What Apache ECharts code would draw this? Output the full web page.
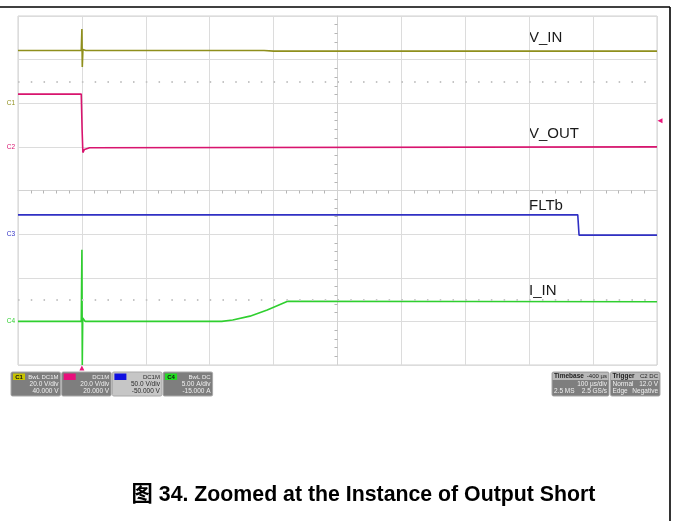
<!DOCTYPE html>
<html>
<head>
<meta charset="utf-8">
<script src="https://cdn.jsdelivr.net/npm/echarts@6/dist/echarts.min.js"></script>
<style>
html,body{margin:0;padding:0;background:#fff}
#main{width:673px;height:521px}
</style>
</head>
<body>
<div id="main"></div>
<script>
// traces: time in µs (trigger at 0), values in channel units
var vinTime  = [-100, -1, 0, 0.6, 1.6, 6, 285, 300, 900];
var vinVolt  = [24.2, 24.2, 34, 16.6, 24.6, 24.2, 24.2, 23.9, 23.9];

var voutTime = [-100, -1, 0.3, 1.5, 4, 12, 900];
var voutVolt = [24.2, 24.2, 8, -2.6, -1.2, -0.4, 0];

var fltTime  = [-100, 776, 778, 900];
var fltVolt  = [22.1, 22.1, -1.1, -1.1];

var iinTime  = [-100, -1, 0, 0.6, 1.3, 5, 219, 236, 263, 290, 322, 900];
var iinAmp   = [0, 0, 8.2, -5, 0.4, 0, 0, 0.15, 0.6, 1.3, 2.3, 2.25];

// scope channel settings
var chanNames   = ['C1', 'C2', 'C3', 'C4'];
var chanPerDiv  = [20, 20, 50, 5];
var chanOffset  = [40, 20, -50, -15];
var chanColors  = ['#8f8f1c', '#d8146e', '#3030c4', '#2fcf2f'];
var badgeColors = ['#c8c400', '#e8107c', '#1010e0', '#22dd22'];
var traceNames  = ['V_IN', 'V_OUT', 'FLTb', 'I_IN'];
var traceLabelY = [38, 133.5, 205.5, 290.5];
var chanCoupling = ['BwL DC1M', 'DC1M', 'DC1M', 'BwL DC'];
var chanScaleTxt = ['20.0 V/div', '20.0 V/div', '50.0 V/div', '5.00 A/div'];
var chanOffsetTxt = ['40.000 V', '20.000 V', '-50.000 V', '-15.000 A'];
var triggerLevel = 12.0;   // V on C2
var timeMin = -100, timeMax = 900, timePerDiv = 100;

var dom = document.getElementById('main');
var myChart = echarts.init(dom, null, {renderer: 'canvas'});

function zip(t, v) {
    var out = [];
    for (var i = 0; i < t.length; i++) out.push([t[i], v[i]]);
    return out;
}
var traces = [zip(vinTime, vinVolt), zip(voutTime, voutVolt), zip(fltTime, fltVolt), zip(iinTime, iinAmp)];

var FONT = '"Liberation Sans", Arial, sans-serif';

// channel y axes: screen = (value + offset) / perDiv, 8 divisions
var yAxes = [{
    type: 'value', min: -4, max: 4, interval: 1,
    axisLabel: {show: false},
    axisTick: {show: false},
    axisLine: {show: true, onZero: true, onZeroAxisIndex: 0, lineStyle: {color: '#d2d2d2'}},
    minorTick: {show: true, splitNumber: 5, length: 3, lineStyle: {color: '#b5b5b5'}},
    splitLine: {lineStyle: {color: '#dcdcdc'}}
}];
chanNames.forEach(function (name, i) {
    yAxes.push({
        type: 'value',
        min: -4 * chanPerDiv[i] - chanOffset[i],
        max: 4 * chanPerDiv[i] - chanOffset[i],
        interval: chanPerDiv[i],
        position: 'left',
        axisLine: {show: false, onZero: false},
        axisTick: {show: false},
        splitLine: {show: false},
        axisLabel: {
            margin: 3, fontSize: 6.5, color: chanColors[i], fontFamily: FONT,
            formatter: function (v) { return Math.abs(v) < 1e-9 ? name : ''; }
        }
    });
});

var series = traces.map(function (d, i) {
    return {
        type: 'line', name: traceNames[i],
        xAxisIndex: 1, yAxisIndex: i + 1,
        data: d, symbol: 'none', silent: true,
        lineStyle: {color: chanColors[i], width: 1.6}
    };
});
// trigger markers on C2
series[1].markPoint = {
    silent: true,
    label: {show: false},
    data: [
        {coord: [0, -4 * chanPerDiv[1] - chanOffset[1]], symbol: 'triangle', symbolSize: 5, symbolOffset: [0, 3], itemStyle: {color: '#e8157a'}},
        {coord: [timeMax, triggerLevel], symbol: 'triangle', symbolRotate: 90, symbolSize: 5, symbolOffset: [3, 0], itemStyle: {color: '#e8157a'}}
    ]
};
// dotted rows at +/-2.5 div
series.push({
    type: 'line', xAxisIndex: 0, yAxisIndex: 0, data: [], silent: true,
    markLine: {
        silent: true, symbol: 'none', label: {show: false},
        lineStyle: {color: '#c4c4c4', type: [1.5, 11.28], width: 2},
        data: [{yAxis: 2.5}, {yAxis: -2.5}]
    }
});

var graphics = [];
// outer frame
graphics.push({type: 'line', shape: {x1: 0, y1: 7, x2: 670, y2: 7}, style: {stroke: '#000', lineWidth: 1.6}});
graphics.push({type: 'line', shape: {x1: 670, y1: 7, x2: 670, y2: 521}, style: {stroke: '#000', lineWidth: 1.6}});
// trace names
traceNames.forEach(function (n, i) {
    graphics.push({type: 'text', x: 529, y: traceLabelY[i],
        style: {text: n, font: '15px ' + FONT, fill: '#1a1a1a', verticalAlign: 'middle'}});
});
// channel descriptor boxes
chanNames.forEach(function (n, i) {
    var x0 = 11 + i * 50.7, light = (i === 2);
    var txt = light ? '#2a2a2a' : '#f0f0f0';
    graphics.push({type: 'rect', shape: {x: x0, y: 372, width: 49.5, height: 24, r: 1.5},
        style: {fill: light ? '#c6c6c6' : '#7e7e7e', stroke: '#a8a8a8', lineWidth: 1}});
    graphics.push({type: 'rect', shape: {x: x0 + 2, y: 373.5, width: 12, height: 6.5},
        style: {fill: badgeColors[i]}});
    graphics.push({type: 'text', x: x0 + 8, y: 377,
        style: {text: n, font: 'bold 6px ' + FONT, fill: i === 0 || i === 3 ? '#111' : badgeColors[i], align: 'center', verticalAlign: 'middle'}});
    graphics.push({type: 'text', x: x0 + 47.5, y: 377,
        style: {text: chanCoupling[i], font: '6px ' + FONT, fill: txt, align: 'right', verticalAlign: 'middle'}});
    graphics.push({type: 'text', x: x0 + 47.5, y: 384.5,
        style: {text: chanScaleTxt[i], font: '6.5px ' + FONT, fill: txt, align: 'right', verticalAlign: 'middle'}});
    graphics.push({type: 'text', x: x0 + 47.5, y: 391.5,
        style: {text: chanOffsetTxt[i], font: '6.5px ' + FONT, fill: txt, align: 'right', verticalAlign: 'middle'}});
});
// timebase / trigger boxes
var infoBoxes = [
    {x: 552, w: 57, head: ['Timebase', '-400 µs'], rows: [['', '100 µs/div'], ['2.5 MS', '2.5 GS/s']]},
    {x: 610.5, w: 49.5, head: ['Trigger', 'C2 DC'], rows: [['Normal', '12.0 V'], ['Edge', 'Negative']]}
];
infoBoxes.forEach(function (b) {
    graphics.push({type: 'rect', shape: {x: b.x, y: 372, width: b.w, height: 24, r: 1.5},
        style: {fill: '#7e7e7e', stroke: '#a8a8a8', lineWidth: 1}});
    graphics.push({type: 'rect', shape: {x: b.x + 0.5, y: 372.5, width: b.w - 1, height: 7.5},
        style: {fill: '#b8b8b8'}});
    graphics.push({type: 'text', x: b.x + 2, y: 376.5,
        style: {text: b.head[0], font: 'bold 6.5px ' + FONT, fill: '#222', verticalAlign: 'middle'}});
    graphics.push({type: 'text', x: b.x + b.w - 2, y: 376.5,
        style: {text: b.head[1], font: '6px ' + FONT, fill: '#222', align: 'right', verticalAlign: 'middle'}});
    b.rows.forEach(function (r, k) {
        var y = 384.5 + k * 7;
        graphics.push({type: 'text', x: b.x + 2, y: y,
            style: {text: r[0], font: '6.5px ' + FONT, fill: '#f0f0f0', verticalAlign: 'middle'}});
        graphics.push({type: 'text', x: b.x + b.w - 2, y: y,
            style: {text: r[1], font: '6.5px ' + FONT, fill: '#f0f0f0', align: 'right', verticalAlign: 'middle'}});
    });
});
// caption
graphics.push({type: 'text', x: 363.5, y: 495,
    style: {text: '图 34. Zoomed at the Instance of Output Short',
        font: 'bold 21.3px "Liberation Sans", "Noto Sans CJK SC", sans-serif', fill: '#000',
        align: 'center', verticalAlign: 'middle'}});

var option = {
    animation: false,
    backgroundColor: '#fff',
    grid: {left: 18, top: 16, width: 639, height: 349, show: true, borderColor: '#d0d0d0', borderWidth: 1, backgroundColor: '#fff'},
    xAxis: [{
        type: 'value', min: -5, max: 5, interval: 1,
        axisLabel: {show: false},
        axisTick: {show: false},
        axisLine: {show: true, onZero: true, onZeroAxisIndex: 0, lineStyle: {color: '#d2d2d2'}},
        minorTick: {show: true, splitNumber: 5, length: 3, lineStyle: {color: '#b5b5b5'}},
        splitLine: {lineStyle: {color: '#dcdcdc'}}
    }, {
        type: 'value', min: timeMin, max: timeMax, interval: timePerDiv, show: false
    }],
    yAxis: yAxes,
    series: series,
    graphic: graphics
};
myChart.setOption(option);

window.addEventListener('resize', function () {
    myChart.resize();
});
</script>
</body>
</html>
